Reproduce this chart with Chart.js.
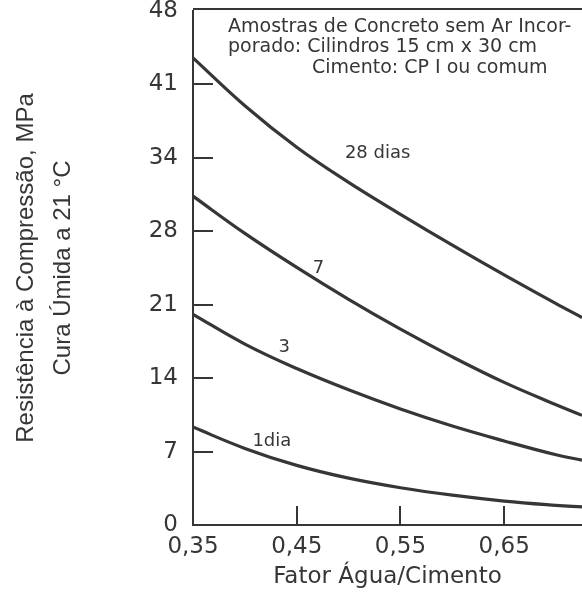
<!DOCTYPE html>
<html>
<head>
<meta charset="utf-8">
<script src="https://cdn.jsdelivr.net/npm/chart.js@4.4.1/dist/chart.umd.min.js"></script>
<style>
  html, body { margin: 0; padding: 0; background: #fff; }
  #wrap { width: 582px; height: 592px; }
</style>
</head>
<body>
<div id="wrap"><canvas id="chart" width="582" height="592"></canvas></div>
<script>
// water/cement ratio where the curves are sampled
const ratios = [0.35, 0.40, 0.45, 0.50, 0.55, 0.60, 0.65, 0.70, 0.725];

// compressive strength in MPa, one list per curing age
const dias28 = [43.9, 39.4, 35.5, 32.2, 29.2, 26.3, 23.5, 20.8, 19.5];
const dias7  = [30.9, 27.4, 24.2, 21.2, 18.4, 15.8, 13.4, 11.3, 10.3];
const dias3  = [19.8, 17.0, 14.7, 12.7, 10.9, 9.3, 7.9, 6.6, 6.1];
const dia1   = [9.2, 7.2, 5.6, 4.4, 3.5, 2.8, 2.25, 1.85, 1.7];

const curveNames = ['28 dias', '7', '3', '1dia'];

// y ticks every 6.9 MPa (1000 psi), printed rounded
const yTickValues = [0, 6.9, 13.8, 20.7, 27.6, 34.5, 41.4, 48.3];
const yTickLabels = ['0', '7', '14', '21', '28', '34', '41', '48'];
const xTickValues = [0.35, 0.45, 0.55, 0.65];

const noteLines = [
  'Amostras de Concreto sem Ar Incor-',
  'porado: Cilindros 15 cm x 30 cm',
  'Cimento: CP I ou comum'
];

const ink = '#363636';
const sans = 'DejaVu Sans';

function series(values) {
  return values.map((v, i) => ({ x: ratios[i], y: v }));
}

// top border, inward tick marks, curve names and the note box text
const decorations = {
  id: 'decorations',
  afterDatasetsDraw(chart) {
    const { ctx, chartArea: a, scales: { x, y } } = chart;
    ctx.save();
    ctx.strokeStyle = ink;
    ctx.lineWidth = 2;
    ctx.beginPath();
    ctx.moveTo(a.left, a.top - 2);
    ctx.lineTo(a.right, a.top - 2);
    yTickValues.slice(1, -1).forEach(v => {
      const py = Math.round(y.getPixelForValue(v));
      ctx.moveTo(a.left, py);
      ctx.lineTo(a.left + 20, py);
    });
    xTickValues.slice(1).forEach(v => {
      const px = Math.round(x.getPixelForValue(v));
      ctx.moveTo(px, a.bottom);
      ctx.lineTo(px, a.bottom - 19);
    });
    ctx.stroke();

    ctx.fillStyle = ink;
    ctx.textBaseline = 'middle';
    ctx.textAlign = 'center';
    ctx.font = `18px "${sans}"`;
    const spots = [[0.528, 34.9], [0.471, 24.1], [0.438, 16.7], [0.426, 7.9]];
    curveNames.forEach((name, i) => {
      ctx.fillText(name, x.getPixelForValue(spots[i][0]), y.getPixelForValue(spots[i][1]));
    });

    ctx.textAlign = 'left';
    ctx.font = `19px "${sans}"`;
    ctx.fillText(noteLines[0], a.left + 35, 27);
    ctx.fillText(noteLines[1], a.left + 35, 47);
    ctx.fillText(noteLines[2], a.left + 119, 68);
    ctx.restore();
  }
};

const lineStyle = {
  borderColor: ink,
  borderWidth: 3.2,
  pointRadius: 0,
  fill: false,
  tension: 0.4
};

new Chart(document.getElementById('chart'), {
  type: 'line',
  data: {
    datasets: [
      { label: curveNames[0], data: series(dias28), ...lineStyle },
      { label: curveNames[1], data: series(dias7), ...lineStyle },
      { label: curveNames[2], data: series(dias3), ...lineStyle },
      { label: curveNames[3], data: series(dia1), ...lineStyle }
    ]
  },
  options: {
    responsive: false,
    animation: false,
    layout: { padding: { top: 11, right: 0, bottom: 0, left: 0 } },
    plugins: {
      legend: { display: false },
      tooltip: { enabled: false }
    },
    scales: {
      x: {
        type: 'linear',
        min: 0.35,
        max: 0.725,
        afterBuildTicks: s => { s.ticks = xTickValues.map(v => ({ value: v })); },
        afterFit: s => {
          s.height = 67;
          s.paddingLeft = 0;
          s.paddingRight = 0;
        },
        grid: { display: false, drawTicks: false },
        border: { color: ink, width: 2 },
        ticks: {
          autoSkip: false,
          maxRotation: 0,
          padding: 8,
          color: ink,
          font: { family: sans, size: 23, lineHeight: 1.2 },
          callback: v => v.toFixed(2).replace('.', ',')
        },
        title: {
          display: true,
          text: 'Fator Água/Cimento',
          color: ink,
          font: { family: sans, size: 23, lineHeight: 1.2 },
          padding: { top: 0, bottom: 1 }
        }
      },
      y: {
        min: 0,
        max: 48.3,
        afterBuildTicks: s => { s.ticks = yTickValues.map(v => ({ value: v })); },
        afterFit: s => {
          s.width = 193;
          s.paddingTop = 0;
          s.paddingBottom = 0;
        },
        grid: { display: false, drawTicks: false },
        border: { color: ink, width: 2 },
        ticks: {
          padding: 15,
          color: ink,
          font: { family: sans, size: 23 },
          callback: (v, i) => yTickLabels[i]
        },
        title: {
          display: true,
          text: ['Resistência à Compressão, MPa', 'Cura Úmida a 21 °C'],
          color: ink,
          font: { family: 'Liberation Sans', size: 24, lineHeight: 1.55 },
          padding: { top: 8, bottom: 0 }
        }
      }
    }
  },
  plugins: [decorations]
});
</script>
</body>
</html>
